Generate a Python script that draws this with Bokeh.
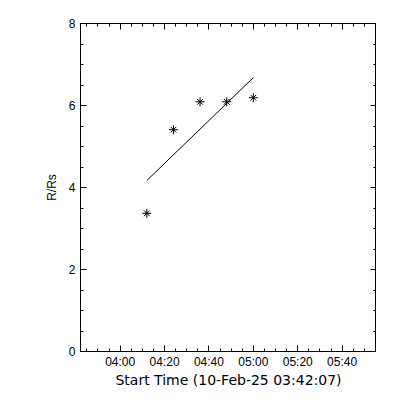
from datetime import datetime
from bokeh.plotting import figure
from bokeh.models import Range1d, FixedTicker, LinearAxis
from bokeh.embed import file_html
from bokeh.resources import INLINE

# ---- data ----
times = [datetime(2025, 2, 10, 4, 12), datetime(2025, 2, 10, 4, 24),
         datetime(2025, 2, 10, 4, 36), datetime(2025, 2, 10, 4, 48),
         datetime(2025, 2, 10, 5, 0)]
r_rs = [3.37, 5.41, 6.09, 6.09, 6.19]

fit_times = [datetime(2025, 2, 10, 4, 12), datetime(2025, 2, 10, 5, 0)]
fit_r = [4.17, 6.68]

x_start = datetime(2025, 2, 10, 3, 42, 7)
x_end = datetime(2025, 2, 10, 5, 55, 30)

x_tick_times = [datetime(2025, 2, 10, 4, 0), datetime(2025, 2, 10, 4, 20),
                datetime(2025, 2, 10, 4, 40), datetime(2025, 2, 10, 5, 0),
                datetime(2025, 2, 10, 5, 20), datetime(2025, 2, 10, 5, 40)]
x_tick_labels = ["04:00", "04:20", "04:40", "05:00", "05:20", "05:40"]
x_minor_times = [datetime(2025, 2, 10, 3 + (45 + 5 * i) // 60, (45 + 5 * i) % 60)
                 for i in range(27)]

y_ticks = [0, 2, 4, 6, 8]
y_minor = [i * 0.5 for i in range(17)]

x_label = "Start Time (10-Feb-25 03:42:07)"
y_label = "R/Rs"

EPOCH = datetime(1970, 1, 1)


def ms(d):
    return (d - EPOCH).total_seconds() * 1000.0


xt = [ms(d) for d in x_tick_times]
xm = [ms(d) for d in x_minor_times]

p = figure(frame_width=296, frame_height=328, output_backend="svg",
           toolbar_location=None, x_axis_type="datetime",
           x_range=Range1d(ms(x_start), ms(x_end)), y_range=Range1d(0, 8),
           min_border_left=80, min_border_right=0, min_border_top=23,
           min_border_bottom=40)
p.background_fill_color = "white"
p.border_fill_color = "white"
p.outline_line_color = "black"
p.xgrid.visible = False
p.ygrid.visible = False

FONT = "Liberation Sans"


def style_axis(ax):
    ax.axis_line_color = "black"
    ax.axis_line_width = 1
    ax.major_tick_line_color = "black"
    ax.minor_tick_line_color = "black"
    ax.major_tick_in = 6
    ax.major_tick_out = 0
    ax.minor_tick_in = 3
    ax.minor_tick_out = 0
    ax.major_label_text_font = FONT
    ax.major_label_text_font_size = "12px"
    ax.major_label_text_color = "black"
    ax.major_label_standoff = 5
    ax.axis_label_text_font_style = "normal"
    ax.axis_label_text_color = "black"


xticker = FixedTicker(ticks=xt, minor_ticks=xm)
yticker = FixedTicker(ticks=y_ticks, minor_ticks=y_minor)

xa = p.xaxis[0]
xa.ticker = xticker
xa.major_label_overrides = {t: l for t, l in zip(xt, x_tick_labels)}
xa.axis_label = x_label
style_axis(xa)
xa.major_label_standoff = 3
xa.axis_label_text_font = "DejaVu Sans"
xa.axis_label_text_font_size = "14px"
xa.axis_label_standoff = 0

ya = p.yaxis[0]
ya.ticker = yticker
ya.major_label_overrides = {t: str(t) for t in y_ticks}
ya.axis_label = y_label
style_axis(ya)
ya.axis_label_text_font = FONT
ya.axis_label_text_font_size = "12px"
ya.axis_label_standoff = 7

top = LinearAxis(ticker=xticker)
style_axis(top)
top.major_label_overrides = {t: "" for t in xt}
top.major_label_standoff = 0
p.add_layout(top, "above")

right = LinearAxis(ticker=yticker)
style_axis(right)
right.major_label_overrides = {t: "" for t in y_ticks}
right.major_label_standoff = 0
p.add_layout(right, "right")

p.line(fit_times, fit_r, line_color="black", line_width=1)
p.scatter(times, r_rs, marker="cross", size=9, line_color="black", line_width=1)
p.scatter(times, r_rs, marker="x", size=8, line_color="black", line_width=1)

open("out.html", "w").write(file_html(p, INLINE))
